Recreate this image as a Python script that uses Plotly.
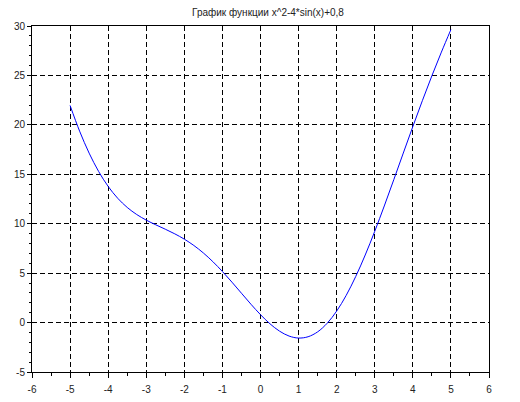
import plotly.graph_objects as go

x_vals = [-5, -4.75, -4.5, -4.25, -4, -3.75, -3.5, -3.25, -3, -2.75, -2.5, -2.25, -2,
          -1.75, -1.5, -1.25, -1, -0.75, -0.5, -0.25, 0, 0.25, 0.5, 0.75, 1, 1.25, 1.5,
          1.75, 2, 2.25, 2.5, 2.75, 3, 3.25, 3.5, 3.75, 4, 4.25, 4.5, 4.75, 5]
y_vals = [21.964, 19.365, 17.140, 15.283, 13.773, 12.576, 11.647, 10.930, 10.364, 9.889,
          9.444, 8.975, 8.437, 7.798, 7.040, 6.158, 5.166, 4.089, 2.968, 1.852, 0.8,
          -0.127, -0.868, -1.364, -1.566, -1.433, -0.940, -0.073, 1.163, 2.750, 4.656,
          6.836, 9.236, 11.795, 14.453, 17.149, 19.827, 22.443, 24.960, 27.360, 29.636]

x_ticks = [-6, -5, -4, -3, -2, -1, 0, 1, 2, 3, 4, 5, 6]
x_tick_labels = ["-6", "-5", "-4", "-3", "-2", "-1", "0", "1", "2", "3", "4", "5", "6"]
y_ticks = [-5, 0, 5, 10, 15, 20, 25, 30]
y_tick_labels = ["-5", "0", "5", "10", "15", "20", "25", "30"]

title_text = "График функции x^2-4*sin(x)+0,8"

fig = go.Figure()
fig.add_trace(go.Scatter(x=x_vals, y=y_vals, mode="lines",
                         line=dict(color="#0000ff", width=1, shape="spline"),
                         showlegend=False, hoverinfo="skip"))

font = dict(family="Liberation Sans, Arial, sans-serif", size=10, color="#222222")

fig.update_layout(
    width=520, height=402,
    margin=dict(l=24, r=39, t=18, b=38, autoexpand=False),
    paper_bgcolor="white", plot_bgcolor="white",
    title=dict(text=title_text, x=0.5, xanchor="center", y=0.99, yanchor="middle",
               automargin=False,
               font=dict(family="Liberation Sans, Arial, sans-serif", size=10, color="#222222")),
    font=font,
)
fig.update_xaxes(range=[-6, 6], tickmode="array", tickvals=x_ticks, ticktext=x_tick_labels,
                 automargin=False, ticklabelstandoff=3,
                 showline=True, linecolor="black", linewidth=1, mirror=True,
                 ticks="outside", ticklen=5, tickcolor="black", tickwidth=1,
                 showgrid=True, gridcolor="black", griddash="5px,3px", gridwidth=1,
                 zeroline=False, tickfont=font,
                 minor=dict(dtick=0.5, tick0=-6, ticks="outside", ticklen=3, tickcolor="black", showgrid=False))
fig.update_yaxes(range=[-5, 30], tickmode="array", tickvals=y_ticks, ticktext=y_tick_labels,
                 automargin=False,
                 showline=True, linecolor="black", linewidth=1, mirror=True,
                 ticks="outside", ticklen=4, tickcolor="black", tickwidth=1,
                 showgrid=True, gridcolor="black", griddash="5px,3px", gridwidth=1,
                 zeroline=False, tickfont=font,
                 minor=dict(dtick=1, tick0=-5, ticks="outside", ticklen=2, tickcolor="black", showgrid=False))

fig.write_html("out.html")
